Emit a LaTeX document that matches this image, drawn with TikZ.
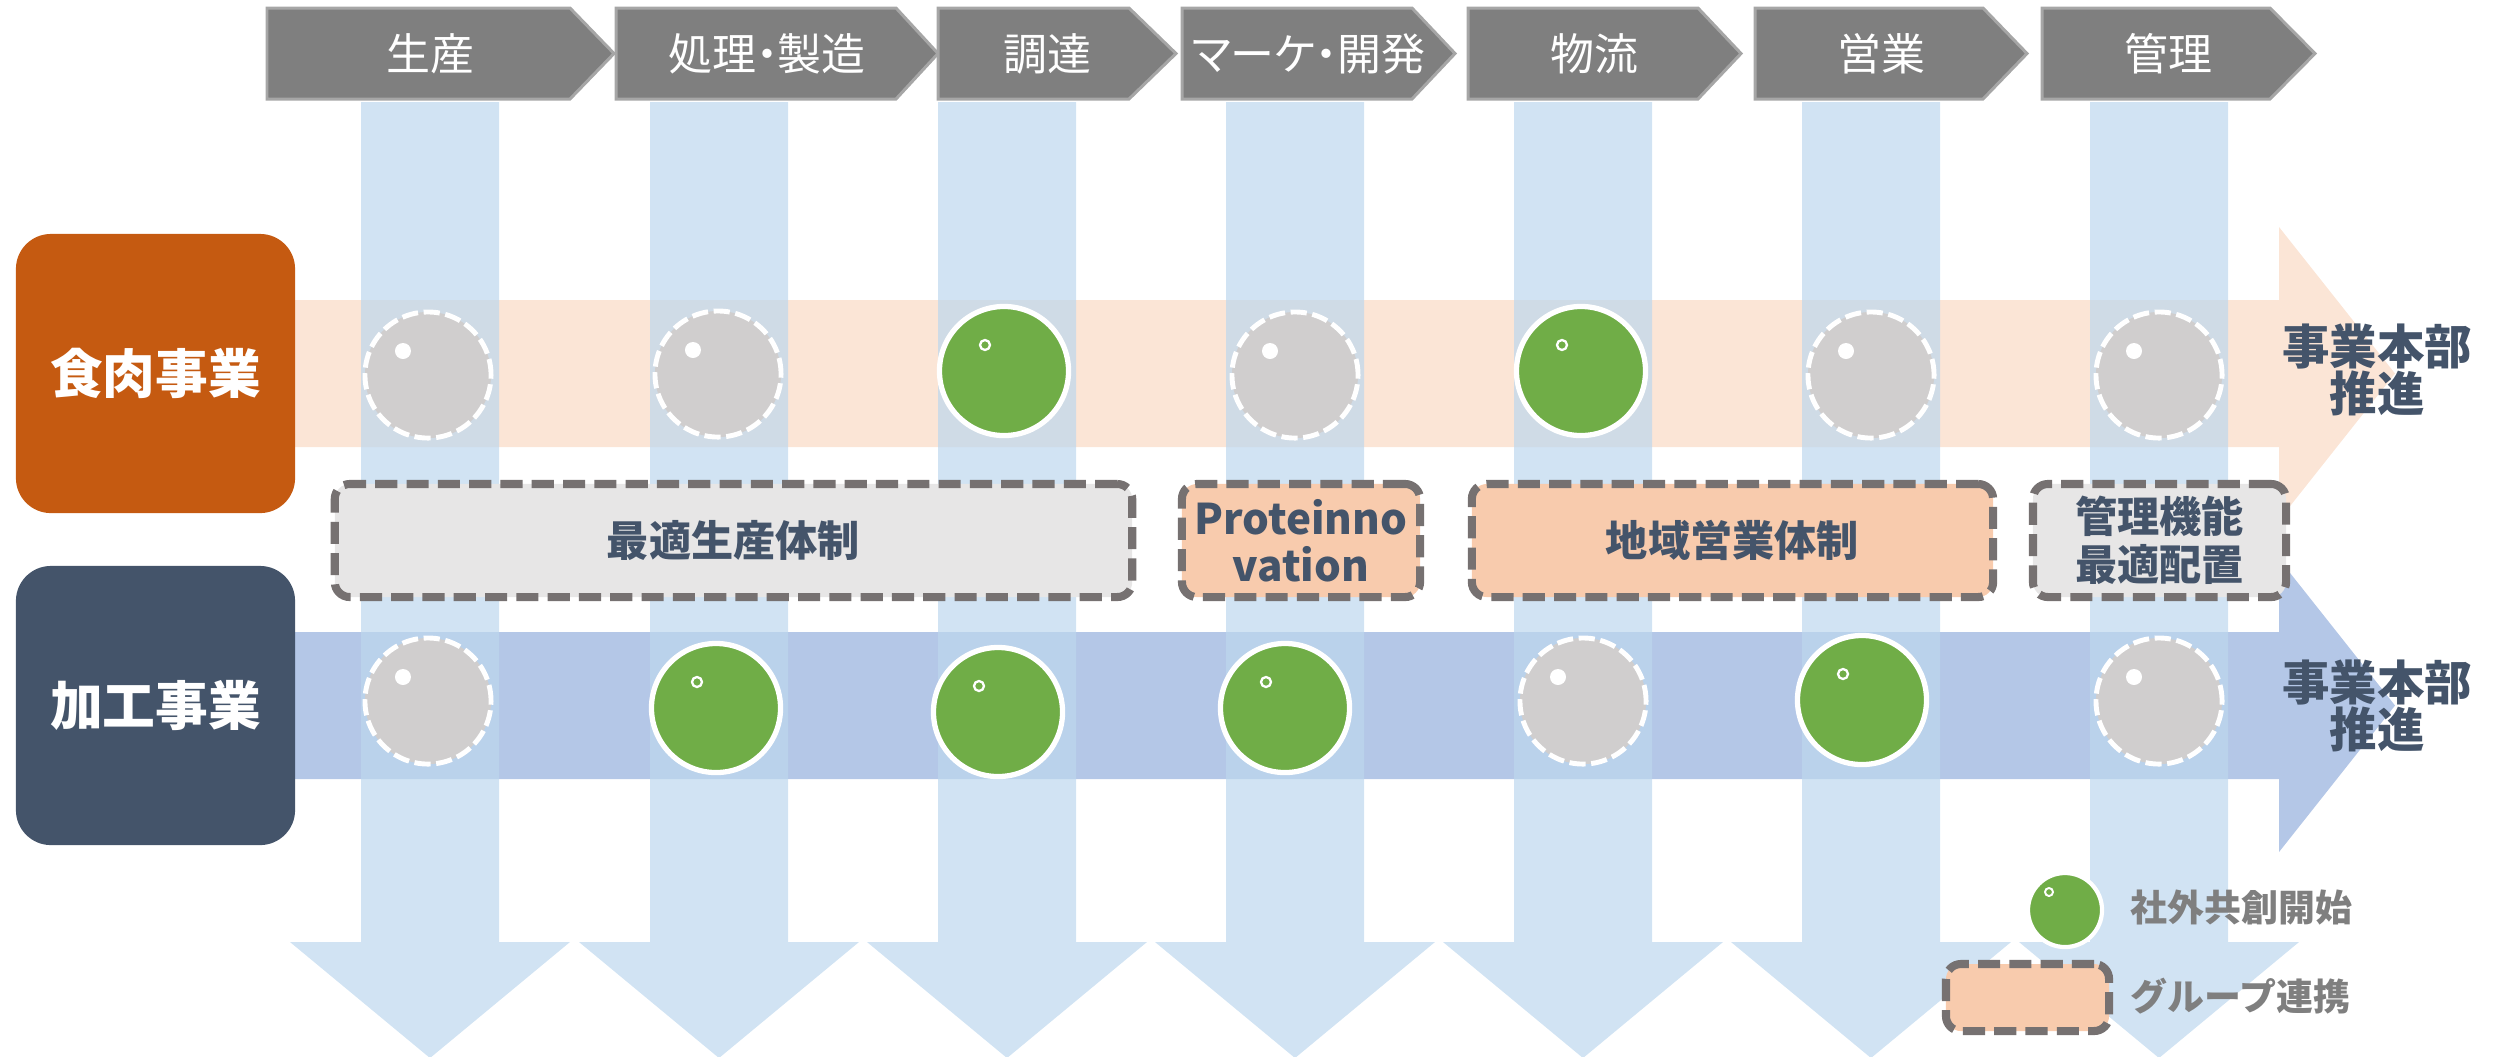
\documentclass[tikz,border=0pt]{standalone}
\usepackage{fontspec}
\setmainfont{Noto Sans CJK JP}
\newfontfamily\stagefont{Noto Sans CJK JP}[RawFeature=+palt]
\usetikzlibrary{positioning}

\definecolor{chevgray}{HTML}{7F7F7F}
\definecolor{chevline}{HTML}{A6A6A6}
\definecolor{colblue}{HTML}{BDD7EE}
\definecolor{meatband}{HTML}{FBE5D6}
\definecolor{procband}{HTML}{B4C7E7}
\definecolor{meatorange}{HTML}{C55A11}
\definecolor{navy}{HTML}{44546A}
\definecolor{dotgray}{HTML}{D0CECE}
\definecolor{dotgreen}{HTML}{70AD47}
\definecolor{boxgray}{HTML}{E7E6E6}
\definecolor{boxpeach}{HTML}{F8CBAD}
\definecolor{dashgray}{HTML}{767171}
\definecolor{legendgray}{HTML}{7F7F7F}

\begin{document}
\begin{tikzpicture}[x=0.01cm, y=-0.01cm,
    chevron/.style={fill=chevgray, draw=chevline, line width=0.85pt},
    stagelabel/.style={text=white, inner sep=0, font=\stagefont\fontsize{12.5}{12.5}\selectfont},
    column/.style={fill=colblue, opacity=0.7},
    unitbox/.style={rounded corners=0.35cm, minimum width=2.79cm, minimum height=2.79cm,
        inner sep=0, text=white, font=\bfseries\fontsize{15}{15}\selectfont},
    graydot/.style={circle, fill=dotgray, draw=white, line width=1.4pt,
        dash pattern=on 4.6pt off 1.6pt, minimum size=1.26cm, inner sep=0,
        path picture={\fill[white] ([xshift=-0.25cm,yshift=0.24cm]path picture bounding box.center) circle (0.08cm);}},
    greendot/.style={circle, fill=dotgreen, draw=white, line width=1.5pt,
        minimum size=1.29cm, inner sep=0,
        path picture={\draw[white, line width=0.65pt] ([xshift=-0.19cm,yshift=0.26cm]path picture bounding box.center) circle (0.05cm);}},
    groupbox/.style={rounded corners=0.15cm, draw=dashgray, line width=2.3pt,
        dash pattern=on 6.3pt off 2.6pt, minimum height=1.13cm, inner sep=0,
        align=center, text=navy, font=\bfseries\fontsize{12}{13.5}\selectfont},
    sidelabel/.style={align=center, inner sep=0, text=navy, font=\bfseries\fontsize{13.5}{13.2}\selectfont},
    legendtext/.style={inner sep=0, text=legendgray, font=\bfseries\fontsize{10.5}{10.5}\selectfont}]

    \useasboundingbox (0,0) rectangle (2494,1056);

    % value chain stages
    \foreach \l/\b/\t/\name [count=\i] in {267/570/614/生産, 616/896/938/処理・製造,
            938/1129/1176/調達, 1182/1412/1455/マーケ・開発, 1468/1698/1741/物流,
            1755/1983/2027/営業, 2042/2270/2315/管理}
    {
        \draw[chevron] (\l,8) -- (\b,8) -- (\t,53.5) -- (\b,99) -- (\l,99) -- cycle;
        \node[stagelabel] (stage\i) at ({(\l+\t)/2-10},54) {\name};
    }

    % business bands
    \fill[meatband] (295,300) -- (2279,300) -- (2279,227) -- (2395,373.5)
        -- (2279,520) -- (2279,447) -- (295,447) -- cycle;
    \fill[procband] (295,632) -- (2279,632) -- (2279,559) -- (2395,705.5)
        -- (2279,852) -- (2279,779) -- (295,779) -- cycle;

    % function columns
    \foreach \c in {430,719,1007,1295,1583,1871,2159}
        \fill[column] ({\c-69},102) -- ({\c+69},102) -- ({\c+69},942) -- ({\c+140},942)
            -- (\c,1058) -- ({\c-140},942) -- ({\c-69},942) -- cycle;

    \node[unitbox, fill=meatorange] (meat) at (155.5,373.5) {食肉事業};
    \node[unitbox, fill=navy] (proc) at (155.5,705.5) {加工事業};

    % status per function
    \foreach \x/\y/\s [count=\i] in {428/375/graydot, 718/374/graydot, 1004/371/greendot,
            1295/375/graydot, 1581/371/greendot, 1871/375/graydot, 2159/375/graydot}
        \node[\s] (meat\i) at (\x,\y) {};
    \foreach \x/\y/\s [count=\i] in {428/701/graydot, 716/708/greendot, 998/712/greendot,
            1285/708/greendot, 1583/701/graydot, 1862/700/greendot, 2159/701/graydot}
        \node[\s] (proc\i) at (\x,\y) {};

    % group collaboration
    \node[groupbox, fill=boxgray, minimum width=7.97cm] (optprod) at (733.5,540.5) {最適生産体制};
    \node[groupbox, fill=boxpeach, minimum width=2.38cm] (protein) at (1301,540.5) {Proteinno\\vation};
    \node[groupbox, fill=boxpeach, minimum width=5.21cm] (regsales) at (1732.5,540.5) {地域営業体制};
    \node[groupbox, fill=boxgray, minimum width=2.53cm] (admin) at (2159.5,540.5) {管理機能\\最適配置};

    \node[sidelabel] (meatgoal) at (2377,370) {事業本部\\推進};
    \node[sidelabel] (procgoal) at (2377,706) {事業本部\\推進};

    % legend
    \node[greendot, line width=1.2pt, minimum size=0.74cm,
        path picture={\draw[white, line width=0.55pt] ([xshift=-0.16cm,yshift=0.18cm]path picture bounding box.center) circle (0.04cm);}]
        (lgdot) at (2065,910) {};
    \node[legendtext, anchor=west] (lgdottext) at (2130,908) {社外共創開始};
    \node[groupbox, fill=boxpeach, minimum width=1.63cm, minimum height=0.67cm] (lgbox) at (2027.5,997.5) {};
    \node[legendtext, anchor=west] (lgboxtext) at (2130,996) {グループ連携};
\end{tikzpicture}
\end{document}
